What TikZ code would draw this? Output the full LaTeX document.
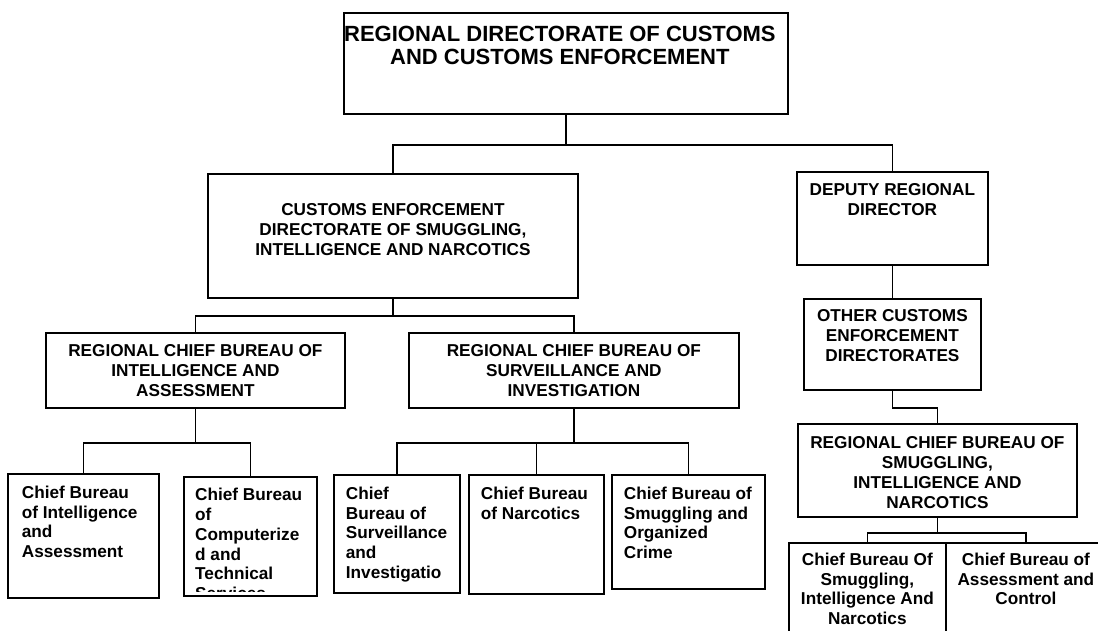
\documentclass[tikz,border=0pt]{standalone}
\usepackage{fontspec}
\setmainfont{Liberation Sans}
\newcommand{\ctrtext}[4]{\parbox[c][#2pt][t]{#1pt}{\centering\vspace*{#3pt}#4\par}}
\newcommand{\lfttext}[5]{\parbox[c][#2pt][t]{#1pt}{\raggedright\leftskip=#4pt\vspace*{#3pt}#5\par}}

\begin{document}
\begin{tikzpicture}[x=1pt,y=-1pt,
		orgbox/.style={draw,line width=1.8pt,anchor=north west,inner sep=0pt,
			font=\fontsize{17.2}{19.8}\selectfont\bfseries},
		link/.style={line width=1.8pt}]
			\useasboundingbox (0,0) rectangle (1098,631);
			\clip (0,0) rectangle (1098,631);
			\fill[white] (0,0) rectangle (1098,631);
			\node[orgbox,font=\fontsize{22}{23}\selectfont\bfseries] (rdcce) at (343,12)
				{\ctrtext{432}{101}{13}{REGIONAL DIRECTORATE OF CUSTOMS\\AND CUSTOMS ENFORCEMENT}\kern12pt};
			\node[orgbox] (cedsin) at (207,173)
				{\ctrtext{370}{124}{30}{CUSTOMS ENFORCEMENT\\DIRECTORATE OF SMUGGLING,\\INTELLIGENCE AND NARCOTICS}};
			\node[orgbox] (dep) at (796,171) {\ctrtext{191}{93}{12}{DEPUTY REGIONAL\\DIRECTOR}};
			\node[orgbox] (oth) at (803,298) {\ctrtext{177}{91}{11}{OTHER CUSTOMS\\ENFORCEMENT\\DIRECTORATES}};
			\node[orgbox] (rcbint) at (45,332) {\ctrtext{299}{75}{12}{REGIONAL CHIEF BUREAU OF\\INTELLIGENCE AND\\ASSESSMENT}};
			\node[orgbox] (rcbsurv) at (408,332) {\ctrtext{330}{75}{12}{REGIONAL CHIEF BUREAU OF\\SURVEILLANCE AND\\INVESTIGATION}};
			\node[orgbox] (rcbsm) at (797,423) {\ctrtext{279}{93}{13}{REGIONAL CHIEF BUREAU OF\\SMUGGLING,\\INTELLIGENCE AND\\NARCOTICS}};
			% chief bureaus
			\node[orgbox] (cbint) at (7,473) {\lfttext{151}{124}{12}{14}{Chief Bureau\\of Intelligence\\and\\Assessment}};
			\node[orgbox,minimum width=133pt,minimum height=119pt] (cbcomp) at (183,476) {};
			\begin{scope}
				\clip ([yshift=5pt]cbcomp.south west) rectangle (cbcomp.north east);
				\node[anchor=north west,inner sep=0pt,font=\fontsize{17.2}{19.8}\selectfont\bfseries] (cbcomptext) at (cbcomp.north west)
					{\lfttext{133}{140}{12}{12}{Chief Bureau\\of\\Computerize\\d and\\Technical\\Services}};
			\end{scope}
			\node[orgbox] (cbsurv) at (333,474) {\lfttext{126}{118}{12}{12}{Chief\\Bureau of\\Surveillance\\and\\Investigatio}};
			\node[orgbox] (cbnarc) at (468,474) {\lfttext{135}{119}{12}{12}{Chief Bureau\\of Narcotics}};
			\node[orgbox] (cbsmug) at (611,474) {\lfttext{153}{114}{12}{12}{Chief Bureau of\\Smuggling and\\Organized\\Crime}};
			\node[orgbox] (cbsin) at (788,542) {\ctrtext{157}{110}{10}{Chief Bureau Of\\Smuggling,\\Intelligence And\\Narcotics}};
			\node[orgbox] (cbac) at (945,542) {\ctrtext{160}{110}{10}{Chief Bureau of\\Assessment and\\Control}};
			% links
			\draw[link](rdcce.south)--++(0,30)-|(cedsin.north);
			\draw[link](rdcce.south)--++(0,30)-|(dep.north);
			\draw[link](cedsin.south)--++(0,17)-|(rcbint.north);
			\draw[link](cedsin.south)--++(0,17)-|(rcbsurv.north);
			\draw[link](rcbint.south)--++(0,34)-|(cbint.north);
			\draw[link](rcbint.south)--++(0,34)-|(cbcomp.north);
			\draw[link](rcbsurv.south)--++(0,34)-|(cbsurv.north);
			\draw[link](rcbsurv.south)--++(0,34)-|(cbnarc.north);
			\draw[link](rcbsurv.south)--++(0,34)-|(cbsmug.north);
			\draw[link](dep.south)--(oth.north);
			\draw[link](oth.south)--++(0,17)-|(rcbsm.north);
			\draw[link](rcbsm.south)--++(0,15)-|(cbsin.north);
			\draw[link](rcbsm.south)--++(0,15)-|(cbac.north);
		\end{tikzpicture}
\end{document}
